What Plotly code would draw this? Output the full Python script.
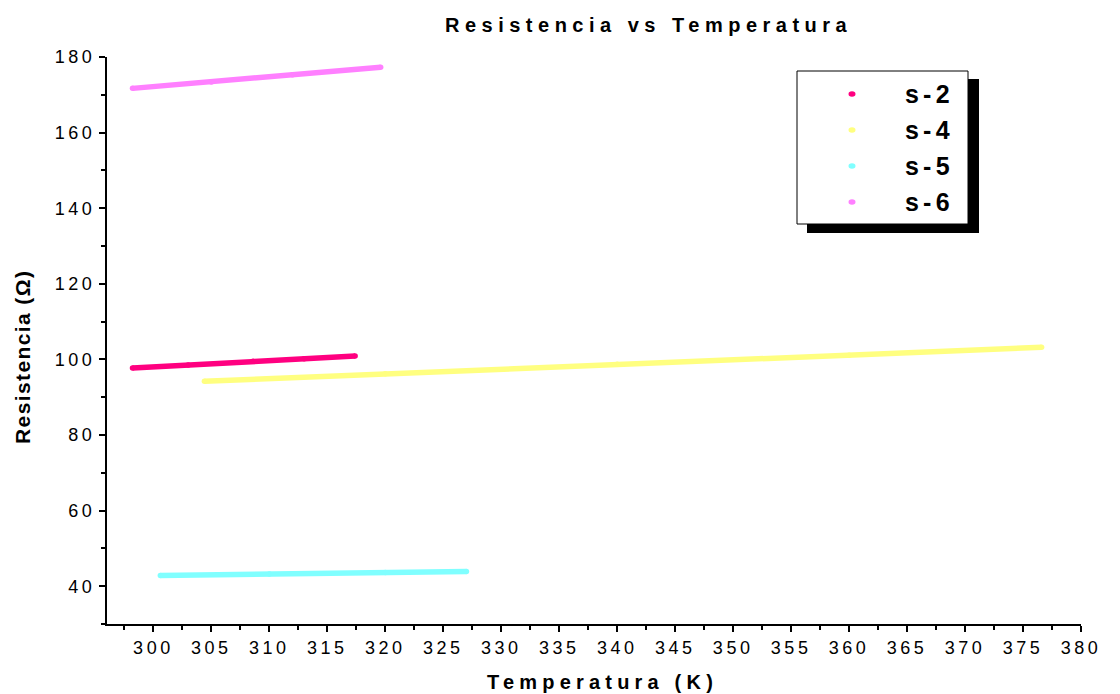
import plotly.graph_objects as go

# Data
s2_T = [298.2, 303.0, 308.6, 313.0, 317.4]
s2_R = [97.7, 98.5, 99.5, 100.2, 100.9]
s4_T = [304.4, 320.0, 340.0, 360.0, 376.6]
s4_R = [94.2, 96.2, 98.7, 101.1, 103.2]
s5_T = [300.6, 310.0, 320.0, 327.0]
s5_R = [42.8, 43.2, 43.6, 43.9]
s6_T = [298.2, 305.0, 312.0, 319.6]
s6_R = [171.7, 173.4, 175.3, 177.3]

series_names = ["s-2", "s-4", "s-5", "s-6"]
series_colors = ["#FF0080", "#FFFF80", "#80FFFF", "#FF80FF"]
series_T = [s2_T, s4_T, s5_T, s6_T]
series_R = [s2_R, s4_R, s5_R, s6_R]

x_ticks = list(range(300, 381, 5))
y_ticks = list(range(40, 181, 20))

OFF = 8  # page body margin
W, H = 1120 - OFF, 694 - OFF
L, T = 107 - OFF, 57 - OFF
R = W - (1081 - OFF)
B = H - (624 - OFF)
PW, PH = W - L - R, H - T - B


def px(x):
    return (x - OFF - L) / PW


def py(y):
    return (H - B - (y - OFF)) / PH


def spaced(s, sp):
    return f'<span style="letter-spacing:{sp}px">{s}</span>'


fig = go.Figure()
for name, col, xs, ys in zip(series_names, series_colors, series_T, series_R):
    fig.add_trace(go.Scatter(x=xs, y=ys, mode="lines+markers", name=name,
                             line=dict(color=col, width=5.5),
                             marker=dict(color=col, size=5.5),
                             showlegend=False, hoverinfo="x+y+name"))

shapes = []
annotations = []
# legend shadow and box
shapes.append(dict(type="rect", xref="paper", yref="paper",
                   x0=px(807), x1=px(979), y0=py(233), y1=py(79),
                   fillcolor="black", line=dict(width=0)))
shapes.append(dict(type="rect", xref="paper", yref="paper",
                   x0=px(797), x1=px(968), y0=py(224), y1=py(71),
                   fillcolor="white", line=dict(color="black", width=1)))
row_y = [94, 130, 166, 202]
for name, col, yy in zip(series_names, series_colors, row_y):
    shapes.append(dict(type="circle", xref="paper", yref="paper",
                       x0=px(848.5), x1=px(855.5), y0=py(yy + 2.8), y1=py(yy - 2.8),
                       fillcolor=col, line=dict(width=0)))
    annotations.append(dict(xref="paper", yref="paper", x=px(903), y=py(yy),
                            xanchor="left", yanchor="middle", showarrow=False,
                            text=spaced(name, 4.2),
                            font=dict(family="Liberation Sans, Arial", size=25,
                                      color="black", weight="bold")))

# title
annotations.append(dict(xref="paper", yref="paper", x=px(648), y=py(25),
                        xanchor="center", yanchor="middle", showarrow=False,
                        text=spaced("Resistencia vs Temperatura", 5.5),
                        font=dict(family="Liberation Sans, Arial", size=20,
                                  color="black", weight="bold")))
# axis titles
annotations.append(dict(xref="paper", yref="paper", x=px(602), y=py(682),
                        xanchor="center", yanchor="middle", showarrow=False,
                        text=spaced("Temperatura (K)", 5.2),
                        font=dict(family="Liberation Sans, Arial", size=20,
                                  color="black", weight="bold")))
annotations.append(dict(xref="paper", yref="paper", x=px(22), y=py(357),
                        xanchor="center", yanchor="middle", showarrow=False,
                        textangle=-90,
                        text=spaced("Resistencia (Ω)", 1.4),
                        font=dict(family="Liberation Sans, Arial", size=21,
                                  color="black", weight="bold")))

tickfont = dict(family="Liberation Sans, Arial", size=18, color="black")

fig.update_layout(
    width=W, height=H,
    margin=dict(l=L, r=R, t=T, b=B),
    paper_bgcolor="white", plot_bgcolor="white",
    shapes=shapes, annotations=annotations,
    showlegend=False,
    xaxis=dict(range=[296, 380], showgrid=False, zeroline=False,
               showline=True, linecolor="black", linewidth=2,
               ticks="outside", ticklen=6, tickwidth=1.5, tickcolor="black",
               tickvals=x_ticks, ticktext=[spaced(str(v), 3.5) for v in x_ticks],
               tickfont=tickfont,
               minor=dict(dtick=2.5, tick0=297.5, ticks="outside", ticklen=4,
                          tickwidth=1.5, tickcolor="black", showgrid=False)),
    yaxis=dict(range=[30, 180], showgrid=False, zeroline=False,
               showline=True, linecolor="black", linewidth=2,
               ticks="outside", ticklen=6, tickwidth=1.5, tickcolor="black",
               tickvals=y_ticks, ticktext=[spaced(str(v), 3.5) for v in y_ticks],
               tickfont=tickfont,
               minor=dict(dtick=10, tick0=30, ticks="outside", ticklen=4,
                          tickwidth=1.5, tickcolor="black", showgrid=False)),
)

fig.write_html("out.html")
